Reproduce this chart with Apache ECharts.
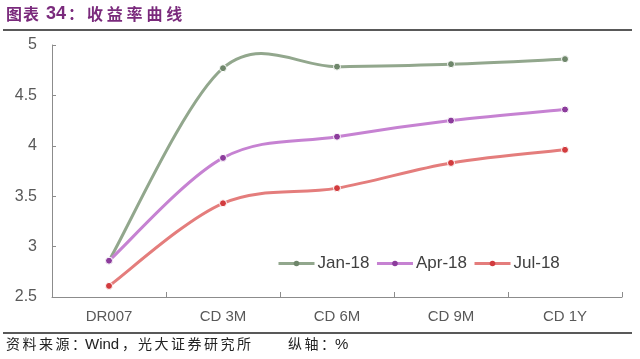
<!DOCTYPE html>
<html><head><meta charset="utf-8">
<script src="https://cdn.jsdelivr.net/npm/echarts@6/dist/echarts.min.js"></script>
<style>html,body{margin:0;padding:0;background:#fff}#c{width:640px;height:359px}</style>
</head><body><div id="c"></div>
<script>
const categories = ['DR007', 'CD 3M', 'CD 6M', 'CD 9M', 'CD 1Y'];
const jan18 = [2.86, 4.77, 4.785, 4.81, 4.86];
const apr18 = [2.86, 3.88, 4.09, 4.25, 4.36];
const jul18 = [2.61, 3.43, 3.58, 3.83, 3.96];
const seriesNames = ['Jan-18', 'Apr-18', 'Jul-18'];
const yTicks = [2.5, 3, 3.5, 4, 4.5, 5];

const lineColors = ['#92a78d', '#c682d2', '#e47d7c'];
const markColors = ['#6f876b', '#8c3c9c', '#d23b3e'];
const chart = echarts.init(document.getElementById('c'));

// Markers (and legend entry) as line series with hidden connecting line
const markerSeries = (name, data, i) => ({
  name, type: 'line', data, z: 5,
  symbol: 'circle', symbolSize: 7,
  lineStyle: { width: 3, color: lineColors[i], opacity: 0 },
  itemStyle: { color: markColors[i], borderColor: '#fff', borderWidth: 1 },
  color: lineColors[i]
});
// Excel-style smoothed curve (Catmull-Rom, tension 1/6) through the data via the axis scales
const curveSeries = (data, i) => ({
  type: 'custom', z: 3, silent: true,
  data: data.map((v, k) => [k, v]),
  renderItem: (params, api) => {
    const k = params.dataIndex;
    if (k >= data.length - 1) return null;
    const P = j => api.coord([Math.max(0, Math.min(data.length - 1, j)), data[Math.max(0, Math.min(data.length - 1, j))]]);
    const p0 = P(k - 1), p1 = P(k), p2 = P(k + 1), p3 = P(k + 2);
    return {
      type: 'bezierCurve',
      shape: {
        x1: p1[0], y1: p1[1], x2: p2[0], y2: p2[1],
        cpx1: p1[0] + (p2[0] - p0[0]) / 6, cpy1: p1[1] + (p2[1] - p0[1]) / 6,
        cpx2: p2[0] - (p3[0] - p1[0]) / 6, cpy2: p2[1] - (p3[1] - p1[1]) / 6
      },
      style: { stroke: lineColors[i], lineWidth: 3, fill: null, lineCap: 'round' }
    };
  }
});

const purple = '#7a2a7c';
const cjk = '"Noto Sans CJK SC", sans-serif';
const graphics = [];
function chars(str, x0, step, top, font, fill) {
  [...str].forEach((ch, i) => graphics.push({ type: 'text', left: x0 + i * step, top, style: { text: ch, fill, font } }));
}
// title
chars('图表', 6, 17, 6, 'bold 16px ' + cjk, purple);
graphics.push({ type: 'text', left: 46, top: 5, style: { text: '34', fill: purple, font: 'bold 18px "Liberation Sans", Arial' } });
chars('：', 68, 17, 6, 'bold 16px ' + cjk, purple);
chars('收益率曲线', 87, 19.8, 6, 'bold 16px ' + cjk, purple);
graphics.push({ type: 'line', shape: { x1: 3, y1: 30, x2: 632, y2: 30 }, style: { stroke: '#222', lineWidth: 1.5 } });
graphics.push({ type: 'line', shape: { x1: 3, y1: 333, x2: 632, y2: 333 }, style: { stroke: '#222', lineWidth: 1.5 } });
// source
const sf = '14px ' + cjk;
chars('资料来源：', 6, 16.5, 337, sf, '#222');
graphics.push({ type: 'text', left: 85, top: 337, style: { text: 'Wind', fill: '#222', font: '15px "Liberation Sans", Arial' } });
chars('，', 122, 16.5, 337, sf, '#222');
chars('光大证券研究所', 138, 16.5, 337, sf, '#222');
chars('纵轴：', 288, 16.5, 337, sf, '#222');
graphics.push({ type: 'text', left: 335, top: 337, style: { text: '%', fill: '#222', font: '15px "Liberation Sans", Arial' } });

chart.setOption({
  animation: false,
  grid: { left: 52, right: 18, top: 45, bottom: 62 },
  legend: {
    data: seriesNames.map((n, i) => ({
      name: n,
      itemStyle: { color: markColors[i], borderWidth: 0 },
      lineStyle: { color: lineColors[i], width: 3, opacity: 1 }
    })),
    left: 272, top: 250, itemWidth: 36, itemHeight: 7, itemGap: 6,
    textStyle: { fontSize: 17, color: '#404040', fontFamily: 'Liberation Sans, Arial', padding: [0, 0, 0, -2] }
  },
  xAxis: {
    type: 'category', data: categories, boundaryGap: true,
    axisLine: { lineStyle: { color: '#8c8c8c', width: 1 } },
    axisTick: { show: true, length: 5, inside: true, lineStyle: { color: '#8c8c8c' } },
    axisLabel: { fontSize: 15, color: '#595959', margin: 12, fontFamily: 'Liberation Sans, Arial' }
  },
  yAxis: {
    type: 'value', min: yTicks[0], max: yTicks[yTicks.length - 1], interval: 0.5,
    axisLine: { show: true, lineStyle: { color: '#8c8c8c', width: 1 } },
    axisTick: { show: true, length: 4, inside: true, lineStyle: { color: '#8c8c8c' } },
    splitLine: { show: false },
    axisLabel: { fontSize: 16, color: '#595959', margin: 15, fontFamily: 'Liberation Sans, Arial' }
  },
  series: [
    curveSeries(jan18, 0), curveSeries(apr18, 1), curveSeries(jul18, 2),
    markerSeries(seriesNames[0], jan18, 0), markerSeries(seriesNames[1], apr18, 1), markerSeries(seriesNames[2], jul18, 2)
  ],
  graphic: graphics
});
</script></body></html>
